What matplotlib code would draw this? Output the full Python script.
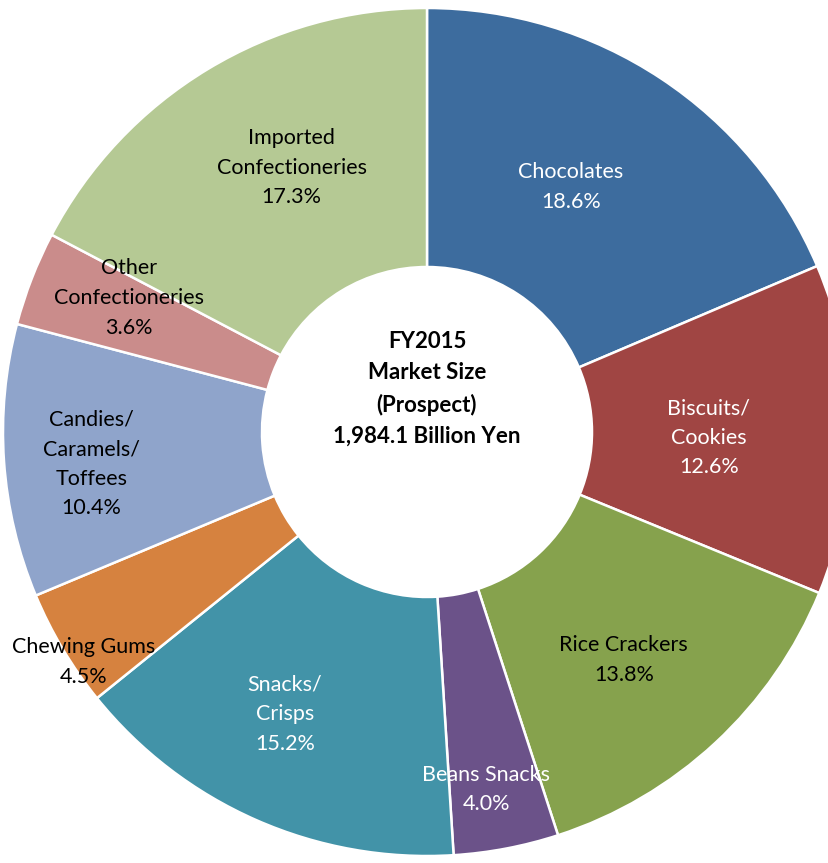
import matplotlib
matplotlib.use("Agg")
import matplotlib.pyplot as plt
import numpy as np

categories = ["Chocolates", "Biscuits/\nCookies", "Rice Crackers", "Beans Snacks",
              "Snacks/\nCrisps", "Chewing Gums", "Candies/\nCaramels/\nToffees",
              "Other\nConfectioneries", "Imported\nConfectioneries"]
shares = [18.6, 12.6, 13.8, 4.0, 15.2, 4.5, 10.4, 3.6, 17.3]
colors = ["#3D6C9E", "#A04543", "#86A24D", "#6B5289", "#4293A8",
          "#D6823F", "#8FA4CB", "#CA8C8B", "#B5C994"]
text_colors = ["white", "white", "black", "white", "white",
               "black", "black", "black", "black"]
label_radius = [0.67, 0.665, 0.71, 0.855, 0.745, 0.975, 0.795, 0.77, 0.70]
label_angle_shift = [3.0, -1.5, -2.0, -1.4, -3.0, 3.0, 1.5, -3.0, -4.0]
center_text = "FY2015\nMarket Size\n(Prospect)\n1,984.1 Billion Yen"

W, H = 829, 863
fig = plt.figure(figsize=(W / 100, H / 100), dpi=100)
ax = fig.add_axes([0, 0, 1, 1])

cx, cy = 427, H - 432
R = 424
hole = 165

wedges, _ = ax.pie(shares, colors=colors, startangle=90, counterclock=False,
                   center=(cx, cy), radius=R, frame=True,
                   wedgeprops=dict(width=R - hole, edgecolor="white", linewidth=1.8))
ax.set_xlim(0, W)
ax.set_ylim(0, H)
ax.set_aspect("equal")
ax.axis("off")

font = ["Lato", "DejaVu Sans"]
for w, lab, val, tc, rf, da in zip(wedges, categories, shares, text_colors,
                                    label_radius, label_angle_shift):
    ang = np.deg2rad((w.theta1 + w.theta2) / 2 + da)
    x = cx + rf * R * np.cos(ang)
    y = cy + rf * R * np.sin(ang)
    ax.text(x, y, f"{lab}\n{val:.1f}%", ha="center", va="center", color=tc,
            fontsize=15.5, family=font, linespacing=1.6)

ax.text(cx, cy + 43, center_text, ha="center", va="center", color="black",
        fontsize=16, fontweight="bold", family=font, linespacing=1.6)

fig.savefig("out.png", dpi=100, facecolor="white")
